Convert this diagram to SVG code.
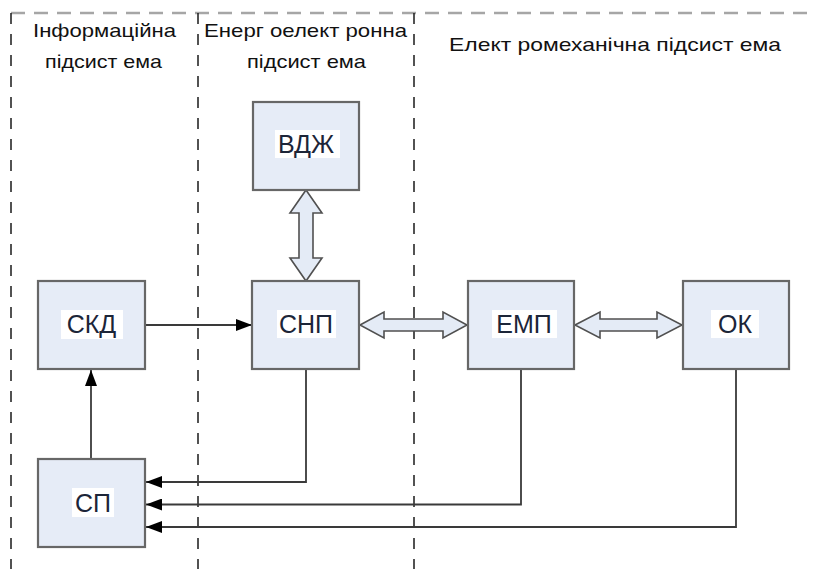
<svg xmlns="http://www.w3.org/2000/svg" width="814" height="569" viewBox="0 0 814 569">
  <style>
    .zone-h { fill: none; stroke: #a6a6a6; stroke-width: 2.5; stroke-dasharray: 14 9; }
    .zone-v { fill: none; stroke: #1a1a1a; stroke-width: 1.5; stroke-dasharray: 11 10; }
    .hdr { font-family: "Liberation Sans", Arial, sans-serif; font-size: 19px; fill: #111; text-anchor: middle; }
    .box { fill: #e6ecf7; stroke: #676767; stroke-width: 2.2; }
    .lblbg { fill: #ffffff; }
    .lbl { font-family: "Liberation Sans", Arial, sans-serif; font-size: 25px; fill: #1c2538; text-anchor: middle; }
    .wire { fill: none; stroke: #3a3a3a; stroke-width: 1.8; }
    .block { fill: #e4ebf6; stroke: #505050; stroke-width: 1.6; stroke-linejoin: miter; }
  </style>
  <defs>
    <marker id="ah" markerUnits="userSpaceOnUse" markerWidth="16" markerHeight="12" refX="16" refY="6" orient="auto">
      <path d="M0,0 L16,6 L0,12 Z" fill="#000"/>
    </marker>
  </defs>

  <g id="zones">
    <line class="zone-h" x1="11" y1="13" x2="814" y2="13"/>
    <line class="zone-v" x1="11" y1="13" x2="11" y2="569"/>
    <line class="zone-v" x1="198" y1="13" x2="198" y2="569"/>
    <line class="zone-v" x1="414" y1="13" x2="414" y2="569"/>
    <text class="hdr" x="104.5" y="37" textLength="143" lengthAdjust="spacingAndGlyphs">Інформаційна</text>
    <text class="hdr" x="103.5" y="68" textLength="117" lengthAdjust="spacingAndGlyphs">підсист ема</text>
    <text class="hdr" x="305.5" y="37" textLength="203" lengthAdjust="spacingAndGlyphs">Енерг оелект ронна</text>
    <text class="hdr" x="306.5" y="68" textLength="119" lengthAdjust="spacingAndGlyphs">підсист ема</text>
    <text class="hdr" x="615" y="51" textLength="332" lengthAdjust="spacingAndGlyphs">Елект ромеханічна  підсист ема</text>
  </g>

  <g id="connectors">
    <line class="wire" x1="145" y1="325" x2="252" y2="325" marker-end="url(#ah)"/>
    <line class="wire" x1="91" y1="459" x2="91" y2="370" marker-end="url(#ah)"/>
    <polyline class="wire" points="306,369 306,482 146,482" marker-end="url(#ah)"/>
    <polyline class="wire" points="521,369 521,504.5 146,504.5" marker-end="url(#ah)"/>
    <polyline class="wire" points="736,369 736,527 146,527" marker-end="url(#ah)"/>
    <polygon class="block" points="306,190 322,213 313,213 313,258 322,258 306,281 290,258 299,258 299,213 290,213"/>
    <polygon class="block" points="360,325 384,312 384,319 443,319 443,312 467,325 443,338 443,331 384,331 384,338"/>
    <polygon class="block" points="575,325 600,312 600,319 657,319 657,312 682,325 657,338 657,331 600,331 600,338"/>
  </g>

  <g id="node-vdzh">
    <rect class="box" x="253" y="102" width="106" height="88"/>
    <rect class="lblbg" x="275" y="130" width="65" height="28"/>
    <text class="lbl" x="306" y="153">ВДЖ</text>
  </g>
  <g id="node-skd">
    <rect class="box" x="38" y="281" width="107" height="88"/>
    <rect class="lblbg" x="61" y="310" width="62" height="29"/>
    <text class="lbl" x="91.5" y="333">СКД</text>
  </g>
  <g id="node-snp">
    <rect class="box" x="252" y="281" width="107" height="88"/>
    <rect class="lblbg" x="277" y="310" width="59" height="28"/>
    <text class="lbl" x="306" y="333">СНП</text>
  </g>
  <g id="node-emp">
    <rect class="box" x="468" y="281" width="106" height="88"/>
    <rect class="lblbg" x="492" y="310" width="65" height="28"/>
    <text class="lbl" x="524" y="333">ЕМП</text>
  </g>
  <g id="node-ok">
    <rect class="box" x="683" y="281" width="106" height="88"/>
    <rect class="lblbg" x="711" y="310" width="48" height="28"/>
    <text class="lbl" x="735" y="333">ОК</text>
  </g>
  <g id="node-sp">
    <rect class="box" x="38" y="459" width="107" height="88"/>
    <rect class="lblbg" x="72" y="488" width="42" height="29"/>
    <text class="lbl" x="93" y="512">СП</text>
  </g>
</svg>
